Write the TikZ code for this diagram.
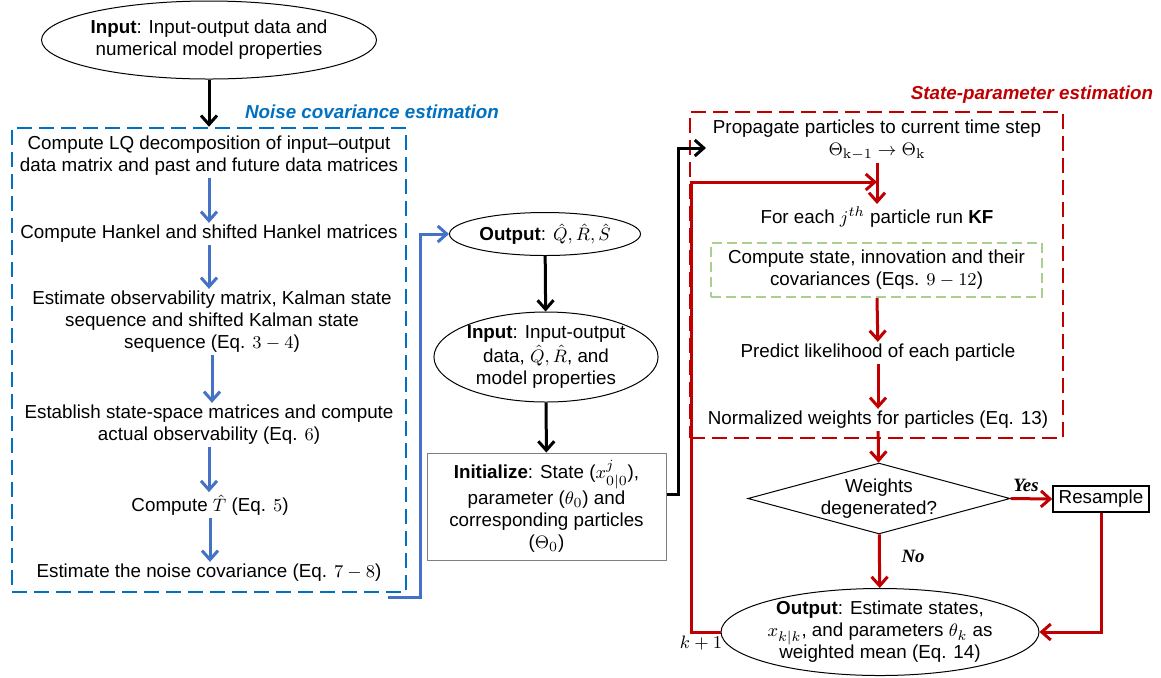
\documentclass[tikz,border=0pt]{standalone}
\usepackage[no-math]{fontspec}
\setmainfont{Liberation Sans}
\newfontfamily\labelserif{Liberation Serif}
\usepackage{amsmath}
\usetikzlibrary{shapes, arrows.meta, positioning, calc}

\definecolor{ncblue}{RGB}{0,112,192}
\definecolor{arrblue}{RGB}{68,114,196}
\definecolor{spred}{RGB}{192,0,0}
\definecolor{kfgreen}{RGB}{169,208,142}

\tikzset{
	txt/.style={align=center, inner sep=1pt, font=\fontsize{9.4}{11}\selectfont},
	ell/.style={txt, ellipse, draw, line width=0.5pt, inner sep=0pt},
	grouplabel/.style={txt, font=\fontsize{9.4}{11}\selectfont\bfseries\itshape},
	branchlabel/.style={txt, font=\fontsize{9.4}{11}\selectfont\labelserif\bfseries\itshape},
	ncbox/.style={draw=ncblue, line width=1.25pt, dash pattern=on 7.5pt off 3.5pt},
	spbox/.style={draw=spred, line width=1pt, dash pattern=on 7.5pt off 3.5pt},
	kfbox/.style={txt, draw=kfgreen, line width=1pt, dash pattern=on 5pt off 2.5pt},
	bluearr/.style={arrblue, line width=1.5pt, -{Straight Barb[length=4.5pt,width=8pt]}},
	blkarr/.style={black, line width=1.5pt, -{Straight Barb[length=4.5pt,width=8pt]}},
	redarr/.style={spred, line width=1.5pt, -{Straight Barb[length=4.5pt,width=8pt]}}
}

\begin{document}
\begin{tikzpicture}[x=0.5pt, y=-0.5pt]
		\useasboundingbox (0,0) rectangle (1161,677);
		\node[ell, minimum width=149pt, minimum height=39pt] (input) at (209,40) {\textbf{Input}: Input-output data and\\numerical model properties};
		\node[ncbox, minimum width=197pt, minimum height=232pt] (nc) at (209,360) {};
		\node[grouplabel, ncblue] (nclabel) at (372,112) {Noise covariance estimation};
			\node[txt] (lq) at (209,156) {Compute LQ decomposition of input--output\\data matrix and past and future data matrices};
			\node[txt] (hankel) at (209,234) {Compute Hankel and shifted Hankel matrices};
			\node[txt] (observ) at (212,322) {Estimate observability matrix, Kalman state\\sequence and shifted Kalman state\\sequence (Eq. $3-4$)};
			\node[txt] (sspace) at (209,425) {Establish state-space matrices and compute\\actual observability (Eq. $6$)};
			\node[txt] (that) at (210,505) {Compute $\hat{T}$ (Eq. $5$)};
			\node[txt] (noise) at (209,573) {Estimate the noise covariance (Eq. $7-8$)};
		\coordinate (ncout) at (388,597);
		\node[ell, minimum width=95.5pt, minimum height=21.5pt] (outQ) at (545,234) {\textbf{Output}: $\hat{Q},\hat{R},\hat{S}$};
		\node[ell, minimum width=112pt, minimum height=45pt] (input2) at (546,357) {\textbf{Input}: Input-output\\[1pt]data, $\hat{Q},\hat{R}$, and\\model properties};
		\node[txt, draw=gray, line width=0.5pt, minimum width=119.5pt, minimum height=53.5pt] (init) at (546.5,506.5) {\textbf{Initialize}: State ($x^j_{0|0}$),\\parameter ($\theta_0$) and\\corresponding particles\\($\Theta_0$)};
		\node[spbox, minimum width=186.5pt, minimum height=163pt] (sp) at (876.5,275) {};
		\node[grouplabel, spred] (splabel) at (1032,95) {State-parameter estimation};
			\node[txt] (prop) at (877,140) {Propagate particles to current time step\\$\Theta_{\mathrm{k-1}}\rightarrow\Theta_{\mathrm{k}}$};
			\node[txt] (kf) at (877,217) {For each $j^{th}$ particle run \textbf{KF}};
			\node[kfbox, minimum width=165.5pt, minimum height=27pt] (cov) at (876.5,270) {Compute state, innovation and their\\covariances (Eqs. $9-12$)};
			\node[txt] (lik) at (878,353) {Predict likelihood of each particle};
			\node[txt] (wts) at (878,420) {Normalized weights for particles (Eq. 13)};
		\coordinate (spin) at (706,148);
		\coordinate (loopin) at (877,182);
		\node[txt, diamond, draw, line width=0.5pt, inner sep=0pt, aspect=3.7] (degen) at (879,498.5) {Weights\\degenerated?};
		\node[txt, draw, line width=0.8pt, minimum width=48pt, minimum height=13pt] (resample) at (1101,499) {Resample};
		\node[ell, minimum width=150pt, minimum height=42pt] (output) at (880,632) {\textbf{Output}: Estimate states,\\$x_{k|k}$, and parameters $\theta_k$ as\\weighted mean (Eq. 14)};
		\node[branchlabel] (yes) at (1026,485) {Yes};
		\node[branchlabel] (no) at (913,556) {No};
		\node[txt] (kplus) at (701,643) {$k+1$};
		\foreach \from/\to in {lq/hankel,hankel/observ,observ/sspace,sspace/that,that/noise}
			\draw[bluearr] (\from.south) -- (\from.south |- \to.north);
		\foreach \from/\to in {input/nc,outQ/input2,input2/init}
			\draw[blkarr] (\from) -- (\to);
		\foreach \from/\to in {prop/kf,cov/lik,lik/wts,wts/degen,degen/output}
			\draw[redarr] (\from) -- (\to);
		\draw[bluearr] (ncout) -- ++(32,0) |- (outQ.west);
		\draw[blkarr] ([yshift=6pt]init.east) -- ++(12,0) |- (spin);
		\draw[redarr] (degen.east) -- (resample.west);
		\draw[redarr] (resample.south) |- (output.east);
		\draw[redarr] (output.west) -- ++(-29,0) |- (loopin);
	\end{tikzpicture}
\end{document}
